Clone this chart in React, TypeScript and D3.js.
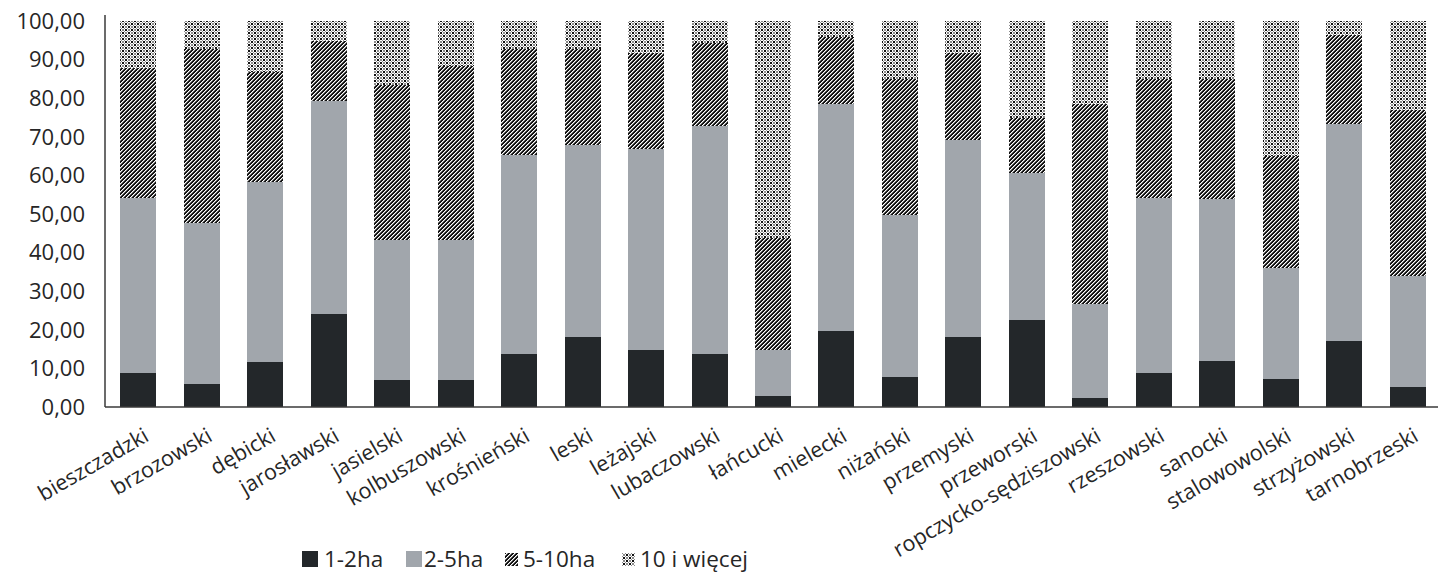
import React from "react";
import * as d3 from "d3";

const categories = [
  "bieszczadzki", "brzozowski", "dębicki", "jarosławski", "jasielski",
  "kolbuszowski", "krośnieński", "leski", "leżajski", "lubaczowski",
  "łańcucki", "mielecki", "niżański", "przemyski", "przeworski",
  "ropczycko-sędziszowski", "rzeszowski", "sanocki", "stalowowolski",
  "strzyżowski", "tarnobrzeski",
];

const seriesNames = ["1-2ha", "2-5ha", "5-10ha", "10 i więcej"];

const ha1to2 = [8.9, 5.9, 11.7, 24.1, 6.9, 6.9, 13.8, 18.1, 14.7, 13.7, 2.8, 19.6, 7.8, 18.1, 22.5, 2.4, 8.9, 11.8, 7.3, 17.1, 5.3];
const ha2to5 = [45.2, 41.8, 46.7, 55.1, 36.3, 36.3, 51.6, 49.7, 52.1, 59.0, 11.9, 59.0, 41.9, 51.2, 38.0, 24.2, 45.2, 42.2, 28.7, 56.1, 28.6];
const ha5to10 = [33.8, 45.1, 28.5, 15.7, 40.3, 45.2, 27.3, 24.9, 25.0, 21.7, 29.0, 17.3, 35.2, 22.5, 14.3, 52.0, 30.8, 31.1, 29.0, 23.1, 43.1];
const ha10plus = [12.1, 7.2, 13.1, 5.1, 16.5, 11.6, 7.3, 7.3, 8.2, 5.6, 56.3, 4.1, 15.1, 8.2, 25.2, 21.4, 15.1, 14.9, 35.0, 3.7, 23.0];

const yTicks = [0, 10, 20, 30, 40, 50, 60, 70, 80, 90, 100];

const W = 1438;
const H = 576;
const FONT = "'Open Sans', 'Noto Sans', sans-serif";
const TEXT = "#262626";

const fills = ["#23272a", "#a1a6ac", "url(#hatch)", "url(#dots)"];

// pixel maps for the two pattern fills
const hatchMap = ["GKKW", "KKWG", "KWGK", "WGKK"];
const dotsMap = ["KWGGWK", "WGWWGW", "GWKKWG", "GWKKWG", "WGWWGW", "KWGGWK"];
const px: Record<string, string> = { K: "#111111", W: "#ffffff", G: "#8c8c8c" };

function PixelPattern({ id, map }: { id: string; map: string[] }) {
  const n = map.length;
  const cells: React.ReactNode[] = [];
  map.forEach((row, r) =>
    row.split("").forEach((c, col) =>
      cells.push(<rect key={`${r}-${col}`} x={col} y={r} width={1} height={1} fill={px[c]} />)
    )
  );
  return (
    <pattern id={id} patternUnits="userSpaceOnUse" width={map[0].length} height={n}>
      {cells}
    </pattern>
  );
}

export default function App() {
  const rows = categories.map((c, i) => ({
    cat: c,
    s0: ha1to2[i],
    s1: ha2to5[i],
    s2: ha5to10[i],
    s3: ha10plus[i],
  }));
  const stack = d3.stack<any>().keys(["s0", "s1", "s2", "s3"])(rows);

  const x = d3
    .scaleBand<string>()
    .domain(categories)
    .range([106.5, 1439.5])
    .paddingInner(0.433)
    .paddingOuter(0.2165);
  const y = d3.scaleLinear().domain([0, 100]).range([407, 21]);
  const fmt = (v: number) => d3.format(".2f")(v).replace(".", ",");

  const axisX = 105;

  // legend layout
  const legendY = 559;
  const legendItems = [
    { sq: 16, x: 302, tx: 324 },
    { sq: 16, x: 406, tx: 424 },
    { sq: 13, x: 505, tx: 523 },
    { sq: 13, x: 622, tx: 640 },
  ];

  return (
    <svg
      width={W}
      height={H}
      style={{ position: "absolute", left: 0, top: 0, background: "#fff" }}
      fontFamily={FONT}
    >
      <defs>
        <PixelPattern id="hatch" map={hatchMap} />
        <PixelPattern id="dots" map={dotsMap} />
      </defs>

      {stack.map((layer, si) => (
        <g key={si} fill={fills[si]}>
          {layer.map((d: any, i: number) => (
            <rect
              key={i}
              x={x(categories[i])}
              width={x.bandwidth()}
              y={y(d[1])}
              height={y(d[0]) - y(d[1])}
              shapeRendering="crispEdges"
            />
          ))}
        </g>
      ))}

      {/* axes */}
      <line x1={axisX} x2={axisX} y1={15} y2={y(0)} stroke="#3a3a3a" strokeWidth={1.5} />
      <line x1={axisX} x2={W} y1={y(0)} y2={y(0)} stroke="#3a3a3a" strokeWidth={1.5} />

      {yTicks.map((t) => (
        <text
          key={t}
          x={85}
          y={y(t)}
          dy="0.35em"
          textAnchor="end"
          fontSize={22}
          fill={TEXT}
        >
          {fmt(t)}
        </text>
      ))}

      {categories.map((c) => {
        const cx = (x(c) as number) + x.bandwidth() / 2;
        return (
          <text
            key={c}
            transform={`translate(${cx + 12},${440}) rotate(-30)`}
            textAnchor="end"
            fontSize={21.5}
            fill={TEXT}
          >
            {c}
          </text>
        );
      })}

      {seriesNames.map((name, i) => {
        const it = legendItems[i];
        return (
          <g key={name}>
            <rect
              x={it.x}
              y={legendY - it.sq / 2}
              width={it.sq}
              height={it.sq}
              fill={fills[i]}
              shapeRendering="crispEdges"
            />
            <text x={it.tx} y={legendY} dy="0.35em" fontSize={22.5} fill={TEXT}>
              {name}
            </text>
          </g>
        );
      })}
    </svg>
  );
}
